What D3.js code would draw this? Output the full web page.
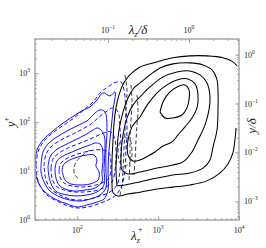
<!DOCTYPE html>
<html><head><meta charset="utf-8">
<script src="https://cdn.jsdelivr.net/npm/d3@7"></script>
<style>body{margin:0;background:#fff}svg{display:block}text{font-family:"Liberation Serif","DejaVu Serif",serif}</style>
</head><body><svg id="c" width="266" height="248"></svg>
<script>
// ---- data (lambda_z^+, y^+) ----
const reTau = 2400;
const xDomain = [30, 10000];
const yDomain = [1, 5000];
const xTickVals = [100, 1000, 10000];
const yTickVals = [1, 10, 100, 1000];
const topTickVals = [0.1, 1];
const rightTickVals = [0.001, 0.01, 0.1, 1];

const blackSolid = [
  [[9200,76],[8900,43],[8400,23.5],[7300,14],[5800,9.1],[4000,6.3],[2480,5.2],[1530,4.7],[970,4.3],[597,3.7],[424,3.4],[319,3.1],[277,3.6],[269,6.6],[269,16.9],[277,43],[285,96],[301,195],[328,360],[370,604],[440,900],[597,1340],[968,1700],[1527,2060],[2478,2260],[4022,2260],[6340,2060],[8430,1700],[9450,1410]],
  [[310,5.0],[301,10.5],[310,27],[328,69],[368,162],[424,312],[503,501],[597,633],[793,923],[1055,1283],[1528,1550],[2478,1625],[3589,1479],[4637,1168],[5346,729],[5500,396],[5500,178],[5346,69],[4770,31],[4380,16.9],[3589,11.5],[2478,9.14],[1528,8.32],[969,7.2],[597,6.0],[389,5.2],[310,5.0]],
  [[597,328],[793,524],[1149,840],[1712,1063],[2478,1114],[3295,923],[4022,633],[4380,328],[4257,178],[3799,88],[3113,43],[2623,24.6],[2030,15.4],[1528,13.3],[969,11.5],[597,9.56],[424,8.72],[358,10.5],[348,21.3],[368,54.7],[412,122],[489,225],[597,328]],
  [[597,127],[749,236],[969,396],[1287,576],[1712,729],[2341,764],[2858,604],[3113,360],[3025,196],[2623,122],[2149,80],[1761,54.7],[1484,39.4],[1149,32.6],[915,24.6],[749,20.3],[597,16.9],[489,16.1],[424,21.3],[424,43.3],[475,80],[597,127]],
  [[1055,162],[1149,259],[1363,396],[1712,524],[2149,576],[2408,456],[2408,284],[2275,196],[1973,140],[1528,122],[1216,122],[1055,162]]
];
const blackDashed = [
  [[143.7,27],[121,22.3],[99,16.1],[91,11.5],[93.7,8.32],[105,6.9]],
  [[389,923],[412,456],[400,178],[389,69],[378,27],[368,10.5],[358,5.2],[338,3.25]],
  [[462,576],[475,284],[462,111],[449,43.3],[449,16.9],[436,6.58]],
  [[548,360],[564,178],[548,87.7],[533,43.3],[518,16.9],[503,8.32]],
  [[389,49.8],[449,43.3],[475,27],[462,16.9],[400,12.7],[338,14.6],[319,24.6],[338,39.4],[389,49.8]]
];
const blueSolid = [
  [[30,14.6],[31.8,27],[37.7,43.3],[50.1,66],[64.7,92],[86.1,127],[114,170],[144,205],[175,284],[208,396],[254,343],[293,415],[277,178],[261,69],[247,27],[240,10.5],[240,4.1],[214,2.68],[175,2.33],[132,2.03],[99,1.85],[74.6,2.13],[53,2.68],[39.9,3.74],[32.7,6.0],[30,10.5],[30,14.6]],
  [[35.6,13.3],[37.7,24.6],[44.7,37.6],[56.1,49.8],[74.6,66],[99,84],[132,106],[166,154],[191,178],[220,162],[233,69],[226,27],[226,10.5],[226,4.5],[191,3.25],[144,2.68],[108,2.44],[81,2.56],[61,2.96],[46,3.92],[38.8,6.0],[35.6,9.6],[35.6,13.3]],
  [[43.5,12.1],[46,19.4],[54.5,27],[70.5,34.2],[93.7,43.3],[125,54.7],[157,69.3],[181,76],[214,54.7],[220,27],[214,11.5],[214,5.2],[175,3.74],[132,3.25],[99,3.1],[74.6,3.25],[56.1,3.74],[48.7,4.96],[44.7,7.6],[43.5,12.1]],
  [[53,11],[56.1,16.1],[66.5,20.3],[86.1,24.6],[114,29.7],[144,34.2],[170,37.6],[197,34.2],[208,18.6],[202,9.6],[202,6.0],[166,4.5],[125,4.1],[94,3.9],[70.5,4.3],[59.4,5.2],[54.5,7.2],[53,11]],
  [[64.7,10.5],[68.5,13.9],[81.3,16.9],[102,19.4],[132,21.3],[161,21.3],[175,16.9],[170,12.7],[186,9.6],[181,6.6],[144,5.45],[108,5.2],[83.6,5.45],[70.5,6.6],[64.7,10.5]]
];
const blueDashed = [
  [[30.9,13.3],[32.7,24.6],[38.8,41.3],[51.5,63],[68.5,88],[91,122],[121,178],[157,259],[197,415],[240,524],[285,633],[348,663],[378,456],[400,178],[412,69],[400,27],[389,10.5],[358,5.2],[301,3.25],[240,2.56],[181,2.13],[136,1.85],[102,1.76],[77,1.94],[56,2.44],[42,3.25],[34.6,4.96],[31.8,7.9],[30.9,13.3]],
  [[38.8,12.7],[41.1,22.3],[48.7,32.6],[62.9,43.3],[83.6,54.7],[111,69.3],[148,92],[186,127],[226,162],[277,196],[319,162],[338,69.3],[348,27],[338,10.5],[310,5.2],[254,3.74],[191,3.1],[144,2.68],[108,2.56],[81,2.68],[61,3.25],[47.3,4.31],[41.1,6.58],[38.8,12.7]],
  [[47.3,11.5],[50.1,17.7],[59.4,23.4],[76.8,29.7],[102,35.8],[136,43.3],[175,52.2],[214,60.1],[261,63.1],[293,43.3],[301,21.3],[293,10.5],[269,6.0],[214,4.52],[161,3.92],[121,3.74],[91,3.74],[68.5,4.11],[54.5,4.96],[48.7,7.23],[47.3,11.5]],
  [[59.4,10.5],[62.9,14.6],[72.5,17.7],[93.7,21.3],[125,24.6],[166,27],[208,27],[247,23.4],[261,13.3],[247,7.23],[202,5.71],[152,4.96],[114,4.73],[86,4.96],[68.5,5.71],[61.1,7.57],[59.4,10.5]]
];

// ---- layout ----
const L = 35, R = 239, T = 39, B = 220;
const svg = d3.select('#c');
const x = d3.scaleLog().domain(xDomain).range([L, R]);
const y = d3.scaleLog().domain(yDomain).range([B, T]);
const xTop = d3.scaleLog().domain(xDomain.map(v => v / reTau)).range([L, R]);
const yRight = d3.scaleLog().domain(yDomain.map(v => v / reTau)).range([B, T]);

svg.append('defs').append('clipPath').attr('id', 'clip').append('rect')
  .attr('x', L).attr('y', T).attr('width', R - L).attr('height', B - T);

const g = svg.append('g').attr('clip-path', 'url(#clip)');
const line = d3.line().x(d => x(d[0])).y(d => y(d[1])).curve(d3.curveCatmullRom.alpha(0.5));

blueSolid.forEach(c => g.append('path').attr('d', line(c)).attr('fill', 'none')
  .attr('stroke', '#1010ff').attr('stroke-width', 1));
blueDashed.forEach(c => g.append('path').attr('d', line(c)).attr('fill', 'none')
  .attr('stroke', '#1010ff').attr('stroke-width', 1).attr('stroke-dasharray', '4,2.5'));
blackSolid.forEach(c => g.append('path').attr('d', line(c)).attr('fill', 'none')
  .attr('stroke', '#000').attr('stroke-width', 1.05));
blackDashed.forEach(c => g.append('path').attr('d', line(c)).attr('fill', 'none')
  .attr('stroke', '#222').attr('stroke-width', 0.9).attr('stroke-dasharray', '4,2.5'));

// ---- axes ----
const axCol = '#9a9a9a';
const txtCol = '#222';
function sup(sel, exp) {
  sel.append('tspan').text('10');
  sel.append('tspan').attr('dy', -4).attr('font-size', 5.5).text(exp);
}
function expOf(v) { const e = Math.round(Math.log10(v)); return e < 0 ? '\u2212' + (-e) : '' + e; }

const ax = svg.append('g');
ax.append('g').attr('transform', `translate(0,${B})`).call(d3.axisBottom(x).tickValues(x.ticks()).tickSize(-2).tickFormat(''));
ax.append('g').attr('transform', `translate(0,${B})`).call(d3.axisBottom(x).tickValues(xTickVals).tickSize(-4).tickFormat(''));
ax.append('g').attr('transform', `translate(0,${T})`).call(d3.axisTop(xTop).tickValues(xTop.ticks()).tickSize(-2).tickFormat(''));
ax.append('g').attr('transform', `translate(0,${T})`).call(d3.axisTop(xTop).tickValues(topTickVals).tickSize(-4).tickFormat(''));
ax.append('g').attr('transform', `translate(${L},0)`).call(d3.axisLeft(y).tickValues(y.ticks()).tickSize(-2).tickFormat(''));
ax.append('g').attr('transform', `translate(${L},0)`).call(d3.axisLeft(y).tickValues(yTickVals).tickSize(-4).tickFormat(''));
ax.append('g').attr('transform', `translate(${R},0)`).call(d3.axisRight(yRight).tickValues(yRight.ticks()).tickSize(-2).tickFormat(''));
ax.append('g').attr('transform', `translate(${R},0)`).call(d3.axisRight(yRight).tickValues(rightTickVals).tickSize(-4).tickFormat(''));
ax.selectAll('.domain').remove();
ax.selectAll('line').attr('stroke', axCol).attr('stroke-width', 0.8);
svg.append('rect').attr('x', L).attr('y', T).attr('width', R - L).attr('height', B - T)
  .attr('fill', 'none').attr('stroke', axCol).attr('stroke-width', 1.3);

// tick labels
xTickVals.forEach(v => {
  const t = svg.append('text').attr('x', x(v)).attr('y', B + 13).attr('text-anchor', 'middle')
    .attr('font-size', 8).attr('fill', txtCol); sup(t, expOf(v));
});
yTickVals.forEach(v => {
  const t = svg.append('text').attr('x', L - 5).attr('y', y(v) + 3).attr('text-anchor', 'end')
    .attr('font-size', 8).attr('fill', txtCol); sup(t, expOf(v));
});
topTickVals.forEach(v => {
  const t = svg.append('text').attr('x', xTop(v)).attr('y', T - 6).attr('text-anchor', 'middle')
    .attr('font-size', 8).attr('fill', txtCol); sup(t, expOf(v));
});
rightTickVals.forEach(v => {
  const t = svg.append('text').attr('x', R + 5).attr('y', yRight(v) + 3).attr('text-anchor', 'start')
    .attr('font-size', 8).attr('fill', txtCol); sup(t, expOf(v));
});

// axis titles
const bt = svg.append('text').attr('x', 131).attr('y', 240).attr('text-anchor', 'start')
  .attr('font-size', 13).attr('fill', txtCol).attr('font-style', 'italic');
bt.append('tspan').text('λ');
bt.append('tspan').attr('dy', 3).attr('font-size', 8).text('z');
svg.append('text').attr('x', 138).attr('y', 232).attr('font-size', 8).attr('fill', txtCol).text('+');

const tt = svg.append('text').attr('x', 138).attr('y', 34).attr('text-anchor', 'middle')
  .attr('font-size', 13).attr('fill', txtCol).attr('font-style', 'italic');
tt.append('tspan').text('λ');
tt.append('tspan').attr('dy', 3).attr('font-size', 8).text('z');
tt.append('tspan').attr('dy', -3).text('/δ');

const lt = svg.append('text').attr('transform', 'translate(15,122) rotate(-90)').attr('text-anchor', 'middle')
  .attr('font-size', 13).attr('fill', txtCol).attr('font-style', 'italic');
lt.append('tspan').text('y');
lt.append('tspan').attr('dy', -6).attr('font-size', 8).attr('font-style', 'normal').text('+');

svg.append('text').attr('transform', 'translate(256,126) rotate(-90)').attr('text-anchor', 'middle')
  .attr('font-size', 13).attr('fill', txtCol).attr('font-style', 'italic').text('y/δ');
</script></body></html>
